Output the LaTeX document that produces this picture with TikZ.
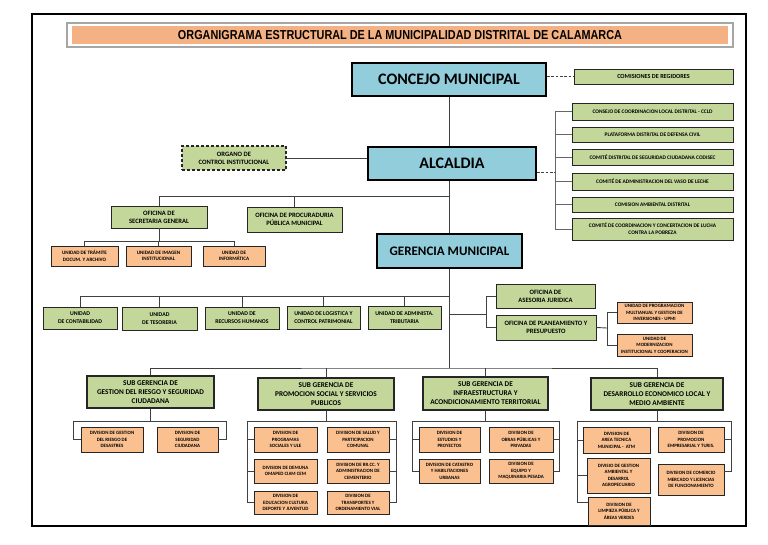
\documentclass[tikz,border=0pt]{standalone}
\usepackage{fontspec}
\setmainfont{Carlito}
\newfontfamily\titlefont{Liberation Sans}[FakeStretch=0.835]
\definecolor{cgreen}{HTML}{C4D79B}
\definecolor{cpeach}{HTML}{FAC090}
\definecolor{cblue}{HTML}{92CDDC}
\definecolor{ctitle}{HTML}{F4B183}
\tikzset{
 conn/.style={draw=black!75, line width=0.9pt},
 dconn/.style={conn, dash pattern=on 2.5pt off 1.8pt},
 gbox/.style={draw=black!85, fill=cgreen, line width=0.9pt, align=center, inner sep=0pt, font=\bfseries\fontsize{5.8}{7.8}\selectfont},
 gmid/.style={gbox, font=\bfseries\fontsize{6.6}{8.2}\selectfont},
 gsmall/.style={gbox, font=\bfseries\fontsize{5.4}{7}\selectfont},
 gbig/.style={gbox, line width=1.1pt, font=\bfseries\fontsize{7.3}{9}\selectfont},
 pbox/.style={draw=black!85, fill=cpeach, line width=0.8pt, align=center, inner sep=0pt, font=\bfseries\fontsize{4.9}{6.5}\selectfont},
 bbox/.style={draw=black, fill=cblue, line width=2.2pt, align=center, inner sep=0pt, font=\bfseries\fontsize{16}{19}\selectfont},
 tbox/.style={fill=ctitle, inner sep=0pt, font=\titlefont\bfseries\fontsize{13}{15}\selectfont},
}
\newcommand\bx[7]{\node[#2, minimum width={(#5)-(#3)}, minimum height={(#6)-(#4)}] (#1) at ({((#3)+(#5))/2},{((#4)+(#6))/2}) {#7};}
\begin{document}
\begin{tikzpicture}[x=1pt,y=-1pt]
\useasboundingbox (0,0) rectangle (768,544);
\draw[line width=2.8pt] (32,14) rectangle (746,526);
% title
\draw[gray!70, line width=1.2pt] (67,23) rectangle (733,47);
\bx{title}{tbox}{72}{26}{728}{44}{ORGANIGRAMA ESTRUCTURAL DE LA MUNICIPALIDAD DISTRITAL DE CALAMARCA}
% top
\bx{concejo}{bbox}{352}{63}{546}{96}{CONCEJO MUNICIPAL}
\bx{com}{gsmall, font=\bfseries\fontsize{6.2}{7.5}\selectfont}{574}{69}{733}{84}{COMISIONES DE REGIDORES}
\bx{c1}{gsmall}{572}{103}{733}{120}{CONSEJO DE COORDINACION LOCAL DISTRITAL - CCLD}
\bx{c2}{gsmall}{572}{127}{733}{142}{PLATAFORMA DISTRITAL DE DEFENSA CIVIL}
\bx{c3}{gsmall}{572}{149}{733}{165}{COMITÉ DISTRITAL DE SEGURIDAD CIUDADANA CODISEC}
\bx{c4}{gsmall}{572}{173}{733}{190}{COMITÉ DE ADMINISTRACION DEL VASO DE LECHE}
\bx{c5}{gsmall}{572}{197}{733}{212}{COMISION AMBIENTAL DISTRITAL}
\bx{c6}{gsmall}{572}{218}{733}{240}{COMITÉ DE COORDINACION Y CONCERTACION DE LUCHA\\CONTRA LA POBREZA}
\bx{alc}{bbox}{368}{147}{536}{180}{ALCALDIA}
\bx{org}{gmid, dash pattern=on 3pt off 2pt, line width=1.3pt}{182}{146}{286}{170}{ORGANO DE\\CONTROL INSTITUCIONAL}
\bx{sec}{gmid}{111}{206}{207}{228}{OFICINA DE\\SECRETARIA GENERAL}
\bx{proc}{gmid}{247}{207}{342}{232}{OFICINA DE PROCURADURIA\\PÚBLICA MUNICIPAL}
\bx{t1}{pbox, font=\bfseries\fontsize{5.1}{6.6}\selectfont}{51}{246}{118}{266}{UNIDAD DE TRÁMITE\\DOCUM. Y ARCHIVO}
\bx{t2}{pbox, font=\bfseries\fontsize{5.1}{6.6}\selectfont}{126}{246}{191}{266}{UNIDAD DE IMAGEN\\INSTITUCIONAL}
\bx{t3}{pbox, font=\bfseries\fontsize{5.1}{6.6}\selectfont}{203}{246}{265}{266}{UNIDAD DE\\INFORMÁTICA}
\bx{ger}{bbox, font=\bfseries\fontsize{13}{15}\selectfont}{377}{234}{522}{268}{GERENCIA MUNICIPAL}
% units
\bx{u1}{gbox}{43}{307}{117}{329}{UNIDAD\\DE CONTABILIDAD}
\bx{u2}{gbox}{122}{307}{197}{330}{UNIDAD\\DE TESORERIA}
\bx{u3}{gbox}{205}{307}{279}{329}{UNIDAD DE\\RECURSOS HUMANOS}
\bx{u4}{gbox}{287}{306}{360}{329}{UNIDAD DE LOGISTICA Y\\CONTROL PATRIMONIAL}
\bx{u5}{gbox}{368}{306}{441}{329}{UNIDAD DE ADMINISTA.\\TRIBUTARIA}
\bx{ases}{gmid}{496}{284}{595}{308}{OFICINA DE\\ASESORIA JURIDICA}
\bx{plan}{gmid}{496}{315}{596}{340}{OFICINA DE PLANEAMIENTO Y\\PRESUPUESTO}
\bx{upmi}{pbox}{617}{302}{692}{323}{UNIDAD DE PROGRAMACION\\MULTIANUAL Y GESTION DE\\INVERSIONES - UPMI}
\bx{moder}{pbox}{617}{334}{692}{356}{UNIDAD DE\\MODERNIZACION\\INSTITUCIONAL Y COOPERACION}
% sub gerencias
\bx{sg1}{gbig}{87}{376}{214}{408}{SUB GERENCIA DE\\GESTION DEL RIESGO Y SEGURIDAD\\CIUDADANA}
\bx{sg2}{gbig}{258}{378}{394}{410}{SUB GERENCIA DE\\PROMOCION SOCIAL Y SERVICIOS\\PUBLICOS}
\bx{sg3}{gbig}{423}{377}{548}{410}{SUB GERENCIA DE\\INFRAESTRUCTURA Y\\ACONDICIONAMIENTO TERRITORIAL}
\bx{sg4}{gbig}{591}{378}{723}{410}{SUB GERENCIA DE\\DESARROLLO ECONOMICO LOCAL Y\\MEDIO AMBIENTE}
% divisions
\bx{d11}{pbox}{81}{427}{143}{452}{DIVISION DE GESTION\\DEL RIESGO DE\\DESASTRES}
\bx{d12}{pbox}{157}{427}{218}{452}{DIVISION DE\\SEGURIDAD\\CIUDADANA}
\bx{d21}{pbox}{254}{427}{317}{452}{DIVISION DE\\PROGRAMAS\\SOCIALES Y ULE}
\bx{d22}{pbox}{254}{459}{317}{483}{DIVISION DE DEMUNA\\OMAPED CIAM CEM}
\bx{d23}{pbox}{254}{491}{317}{514}{DIVISION DE\\EDUCACION CULTURA\\DEPORTE Y JUVENTUD}
\bx{d24}{pbox}{327}{427}{389}{452}{DIVISION DE SALUD Y\\PARTICIPACION\\COMUNAL}
\bx{d25}{pbox}{327}{459}{389}{483}{DIVISION DE RR.CC. Y\\ADMINISTRACION DE\\CEMENTERIO}
\bx{d26}{pbox}{327}{491}{389}{514}{DIVISION DE\\TRANSPORTES Y\\ORDENAMIENTO VIAL}
\bx{d31}{pbox}{419}{427}{480}{452}{DIVISION DE\\ESTUDIOS Y\\PROYECTOS}
\bx{d32}{pbox}{419}{459}{480}{483}{DIVISION DE CATASTRO\\Y HABILITACIONES\\URBANAS}
\bx{d33}{pbox}{489}{427}{553}{452}{DIVISION DE\\OBRAS PÚBLICAS Y\\PRIVADAS}
\bx{d34}{pbox}{489}{459}{553}{483}{DIVISION DE\\EQUIPO Y\\MAQUINARIA PESADA}
\bx{d41}{pbox}{583}{427}{650}{453}{DIVISION DE\\AREA TECNICA\\MUNICIPAL -\ \ ATM}
\bx{d42}{pbox}{587}{458}{650}{493}{DIVISIO DE GESTION\\AMBIENTAL Y\\DESARROL\\AGROPECUARIO}
\bx{d43}{pbox}{588}{497}{650}{525}{DIVISION DE\\LIMPIEZA PÚBLICA Y\\ÁREAS VERDES}
\bx{d44}{pbox}{658}{427}{724}{452}{DIVISION DE\\PROMOCION\\EMPRESARIAL Y TURIS.}
\bx{d45}{pbox}{658}{464}{724}{495}{DIVISION DE COMERCIO\\MERCADO Y LICENCIAS\\DE FUNCIONAMIENTO}
% ---------- connectors
\coordinate (h1) at (449,196);
\coordinate (cb) at (555,172);
\coordinate (sb) at (158,241);
\coordinate (ub) at (449,296);
\coordinate (rb) at (486,314);
\coordinate (pb) at (607,328);
\coordinate (sgb) at (449,368);
\coordinate (g1L) at (73,421); \coordinate (g1R) at (226,421);
\coordinate (g2L) at (247,421); \coordinate (g2R) at (396,421);
\coordinate (g3L) at (412,421); \coordinate (g3R) at (559,421);
\coordinate (g4L) at (577,421); \coordinate (g4R) at (731,421);
\coordinate (k43) at (577,502); \coordinate (k45) at (731,471);
\draw[conn] (concejo.south) -- (concejo.south |- alc.north);
\draw[conn] (h1 |- alc.south) -- (h1 |- ger.north);
\draw[dconn] (com.west -| concejo.east) -- (com.west);
\draw[dconn] (cb -| alc.east) -- (cb);
\foreach \i in {1,...,6} \draw[conn, draw=black!60] (c\i.west) -| (cb);
\draw[conn] (org.east) -- (org.east -| alc.west);
\draw[conn] (sec.north) |- (h1);
\draw[conn] (proc.north) -- (proc.north |- h1);
\draw[conn] (sec.south) -- (sec.south |- sb);
\draw[conn] (t1.north) |- (t3.north |- sb) -- (t3.north);
\draw[conn] (t2.north) -- (t2.north |- sb);
\draw[conn] (ger.south) -- (ger.south |- sgb);
\draw[conn] (u1.north) |- (ub);
\foreach \i in {2,...,5} \draw[conn] (u\i.north) -- (u\i.north |- ub);
\draw[conn] (rb -| ger.south) -- (rb);
\draw[conn] (ases.west) -| (rb);
\draw[conn] (plan.west) -| (rb);
\draw[conn] (plan.east) -- (pb);
\draw[conn] (upmi.west) -| (pb);
\draw[conn] (moder.west) -| (pb);
\draw[conn] (sg1.north) |- (sgb) -| (sg4.north);
\draw[conn] (sg2.north) -- (sg2.north |- sgb);
\draw[conn] (sg3.north) -- (sg3.north |- sgb);
% group 1
\draw[conn] (sg1.south) -- (sg1.south |- g1L);
\draw[conn] (d11.west) -| (g1L) -- (g1R) |- (d12.east);
% group 2
\draw[conn] (sg2.south) -- (sg2.south |- g2L);
\draw[conn] (d23.west) -| (g2L) -- (g2R) |- (d26.east);
\draw[conn] (d21.west) -- (d21.west -| g2L);
\draw[conn] (d22.west) -- (d22.west -| g2L);
\draw[conn] (d24.east) -- (d24.east -| g2R);
\draw[conn] (d25.east) -- (d25.east -| g2R);
% group 3
\draw[conn] (sg3.south) -- (sg3.south |- g3L);
\draw[conn] (d32.west) -| (g3L) -- (g3R) |- (d34.east);
\draw[conn] (d31.west) -- (d31.west -| g3L);
\draw[conn] (d33.east) -- (d33.east -| g3R);
% group 4
\draw[conn] (sg4.south) -- (sg4.south |- g4L);
\draw[conn] (k43 -| d43.west) -- (k43) -- (g4L) -- (g4R) -- (k45) -- (k45 -| d45.east);
\draw[conn] (d41.west) -- (d41.west -| g4L);
\draw[conn] (d42.west) -- (d42.west -| g4L);
\draw[conn] (d44.east) -- (d44.east -| g4R);
\end{tikzpicture}
\end{document}
